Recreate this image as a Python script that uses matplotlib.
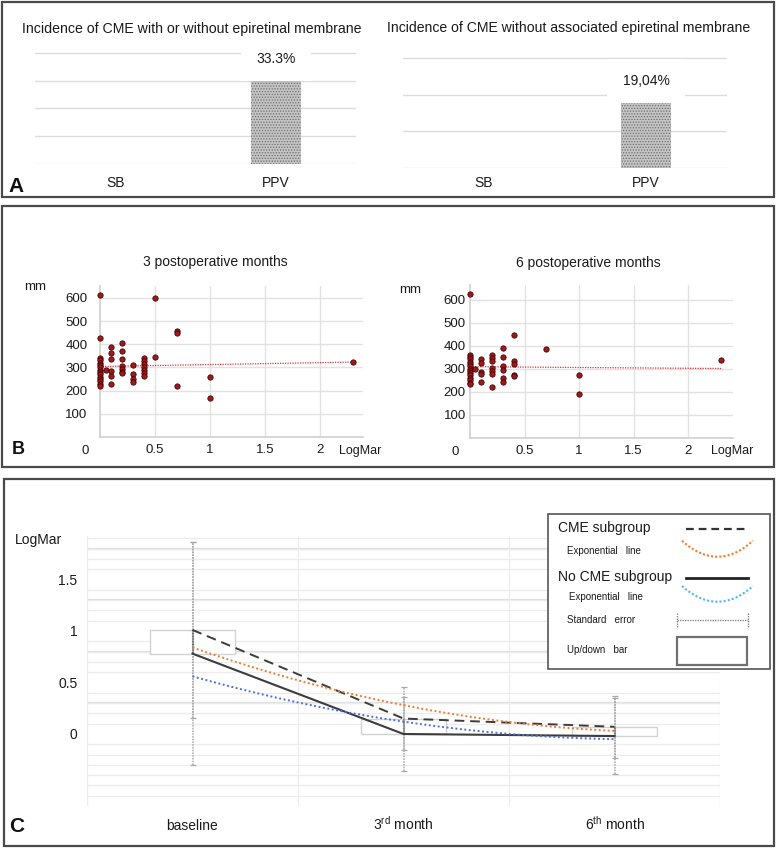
import numpy as np
import matplotlib
matplotlib.use("Agg")
import matplotlib.pyplot as plt
from matplotlib.patches import Rectangle

plt.rcParams['font.family'] = ['Liberation Sans', 'DejaVu Sans']
plt.rcParams['mathtext.fontset'] = 'custom'
plt.rcParams['mathtext.rm'] = 'Liberation Sans'
plt.rcParams['hatch.linewidth'] = 0.6

# ---- data: panel A (incidence of CME) ----
groups = ["SB", "PPV"]
incidence_all = [0, 33.3]
incidence_no_erm = [0, 19.04]
bar_labels_all = ["", "33.3%"]
bar_labels_no_erm = ["", "19,04%"]

# ---- data: panel B (LogMar vs central thickness, mm) ----
m3_logmar = ([0] * 15 + [0.05] + [0.1] * 6 + [0.2] * 7 + [0.3] * 4 + [0.4] * 7
             + [0.5] * 2 + [0.7] * 3 + [1.0] * 2 + [2.3])
m3_thick = [612, 425, 340, 330, 320, 310, 300, 290, 280, 270, 260, 250, 240, 230, 222,
            287,
            390, 362, 337, 285, 262, 228,
            405, 372, 336, 305, 293, 280, 275,
            311, 272, 252, 237,
            340, 328, 315, 302, 290, 276, 262,
            598, 345,
            455, 450, 218,
            258, 170,
            325]
m6_logmar = ([0] * 15 + [0.05] + [0.1] * 5 + [0.2] * 7 + [0.3] * 6 + [0.4] * 5
             + [0.7] + [1.0] * 2 + [2.3])
m6_thick = [626, 362, 352, 342, 332, 322, 312, 302, 292, 282, 272, 262, 250, 240, 235,
            298,
            343, 327, 288, 278, 245,
            360, 348, 333, 305, 293, 280, 222,
            390, 352, 313, 296, 260, 245,
            448, 335, 322, 275, 268,
            387,
            272, 190,
            338]
# linear trend lines as drawn in the figure (values at the ends of the LogMar range)
trend_logmar = [0, 2.3]
m3_trend = [304, 323]
m6_trend = [310, 302]

# ---- data: panel C (LogMar over follow-up) ----
visits = ["baseline", r"3$^{\rm rd}$ month", r"6$^{\rm th}$ month"]
cme_mean = [1.01, 0.15, 0.07]
nocme_mean = [0.78, 0.0, -0.02]
cme_se = [0.85, 0.31, 0.30]
nocme_se = [1.08, 0.36, 0.37]
cme_trend = [0.84, 0.28, 0.03]
nocme_trend = [0.56, 0.12, -0.05]

W, H = 777, 848
fig = plt.figure(figsize=(W / 100, H / 100), dpi=100)


def px_axes(x0, y0, x1, y1):
    return fig.add_axes([x0 / W, 1 - y1 / H, (x1 - x0) / W, (y1 - y0) / H])


GRID = '#dcdcdc'
TXT = '#1a1a1a'


# ---------- panel A ----------
def bar_panel(ax, vals, labels, ymax, pad, lab_off):
    x = np.arange(len(groups))
    ax.bar(x, vals, width=0.31, color='#c4c4c4', edgecolor='#6e6e6e',
           hatch='......', linewidth=0, zorder=2)
    ax.set_xlim(-0.5, 1.5)
    ax.set_ylim(0, ymax)
    ax.set_yticks(np.arange(0, ymax, 10))
    ax.set_yticklabels([])
    ax.tick_params(axis='y', length=0)
    ax.yaxis.grid(True, color=GRID, lw=1)
    ax.set_axisbelow(True)
    ax.set_xticks(x)
    ax.set_xticklabels(groups, fontsize=10, color=TXT)
    ax.tick_params(axis='x', length=0, pad=pad)
    for s in ax.spines.values():
        s.set_visible(False)
    for xi, v, lab in zip(x, vals, labels):
        if lab:
            ax.annotate(lab, xy=(xi, v), xytext=(0, lab_off), textcoords='offset pixels',
                        ha='center', va='center', fontsize=10, color=TXT, zorder=5,
                        bbox=dict(facecolor='white', edgecolor='none', pad=11))


axA1 = px_axes(35, 50.2, 356, 164)
bar_panel(axA1, incidence_all, bar_labels_all, 41, 8.5, 13)
axA2 = px_axes(403, 54.3, 727, 168)
bar_panel(axA2, incidence_no_erm, bar_labels_no_erm, 31, 5.5, 17)


# ---------- panel B ----------
def scatter_panel(ax, xs, ys, trend, xmax, ymax, ypad):
    ax.set_xlim(0, xmax)
    ax.set_ylim(0, ymax)
    ax.set_xticks([0.5, 1, 1.5, 2])
    ax.set_xticklabels(['0.5', '1', '1.5', '2'])
    ax.set_yticks([100, 200, 300, 400, 500, 600])
    ax.tick_params(length=0, labelsize=9.5, colors=TXT)
    ax.tick_params(axis='y', pad=ypad)
    ax.tick_params(axis='x', pad=5)
    ax.grid(True, color='#e2e2e2', lw=1)
    ax.set_axisbelow(True)
    for s in ['top', 'right']:
        ax.spines[s].set_visible(False)
    for s in ['left', 'bottom']:
        ax.spines[s].set_color('#cfcfcf')
        ax.spines[s].set_linewidth(1.2)
    ax.scatter(xs, ys, s=15, color='#a3171b', edgecolor='#2a0000', linewidth=0.5,
               zorder=4, clip_on=False)
    ax.plot(trend_logmar, trend, ls=(0, (1, 1)), color='#d9363e', lw=0.9, zorder=3)
    ax.annotate('0', xy=(0, 0), xytext=(-15, -14), textcoords='offset pixels',
                ha='center', va='center', fontsize=9.5, color=TXT, annotation_clip=False)


axB1 = px_axes(100, 286, 363, 437)
scatter_panel(axB1, m3_logmar, m3_thick, m3_trend, 2.39, 651, 9)
axB2 = px_axes(470, 285, 733, 438)
scatter_panel(axB2, m6_logmar, m6_thick, m6_trend, 2.41, 665, 3)

# ---------- panel C ----------
axC = px_axes(87, 536.2, 720, 806.1)
xc = np.arange(len(visits))
axC.set_xlim(-0.5, 2.5)
axC.set_ylim(-0.7, 1.92)
axC.set_xticks(xc)
axC.set_xticklabels(visits)
axC.set_yticks([0, 0.5, 1, 1.5])
axC.set_yticklabels(['0', '0.5', '1', '1.5'])
axC.set_yticks(np.arange(-0.7, 1.95, 0.1), minor=True)
axC.set_xticks(np.arange(-0.5, 2.6, 0.5), minor=True)
axC.tick_params(which='both', length=0, labelsize=10, colors=TXT)
axC.tick_params(axis='x', pad=17)
axC.tick_params(axis='y', pad=7)
for lab in axC.get_xticklabels():
    lab.set_verticalalignment('baseline')
axC.grid(True, which='minor', color='#ececec', lw=0.9)
for yv in [0.3, 0.8, 1.3, 1.8]:
    axC.axhline(yv, color='#dedede', lw=1.6, zorder=0.5)
axC.set_axisbelow(True)
for s in axC.spines.values():
    s.set_visible(False)

cme = np.array(cme_mean)
noc = np.array(nocme_mean)
lo = np.minimum(cme, noc)
axC.bar(xc, np.abs(cme - noc), bottom=lo, width=0.4, facecolor='white',
        edgecolor='#d2d2d2', lw=1, zorder=1.5)
axC.vlines(xc, noc, cme, color='#6a6a6a', lw=1.5, zorder=2)
for m, e in [(cme_mean, cme_se), (nocme_mean, nocme_se)]:
    eb = axC.errorbar(xc, m, yerr=e, fmt='none', ecolor='#a8a8a8', elinewidth=1.1,
                      capsize=2.5, capthick=0.9, zorder=2.2)
    eb[2][0].set_linestyle((0, (1, 0.8)))
axC.plot(xc, cme_mean, ls=(0, (5, 3)), color='#3c3c3c', lw=1.4, zorder=3)
axC.plot(xc, nocme_mean, ls='-', color='#3c3c3c', lw=1.5, zorder=3)
xs = np.linspace(0, 2, 120)
for tr, col in [(cme_trend, '#ee7d31'), (nocme_trend, '#4a72d8')]:
    p = np.polyfit(xc, tr, 2)
    axC.plot(xs, np.polyval(p, xs), ls=(0, (1, 1.3)), color=col, lw=1.4, zorder=4)

# ---------- overlay: frames, titles, legend ----------
ov = fig.add_axes([0, 0, 1, 1])
ov.set_xlim(0, W)
ov.set_ylim(H, 0)
ov.axis('off')
ov.patch.set_alpha(0)

for (x0, y0, x1, y1) in [(2, 1.5, 774, 197), (2, 206, 774, 467), (4, 479, 774, 846)]:
    ov.add_patch(Rectangle((x0, y0), x1 - x0, y1 - y0, fill=False, ec='#4a4a4a', lw=1.6))

ov.text(192, 29, "Incidence of CME with or without epiretinal membrane",
        ha='center', va='center', fontsize=10.2, color=TXT)
ov.text(569, 28, "Incidence of CME without associated epiretinal membrane",
        ha='center', va='center', fontsize=10.1, color=TXT)
ov.text(215, 262, "3 postoperative months", ha='center', va='center', fontsize=10, color=TXT)
ov.text(588, 263, "6 postoperative months", ha='center', va='center', fontsize=10, color=TXT)
ov.text(35, 287, "mm", ha='center', va='center', fontsize=9.5, color=TXT)
ov.text(410, 290, "mm", ha='center', va='center', fontsize=9.5, color=TXT)
ov.text(360, 451, "LogMar", ha='center', va='center', fontsize=9, color=TXT)
ov.text(732, 451, "LogMar", ha='center', va='center', fontsize=9, color=TXT)
ov.text(38, 540, "LogMar", ha='center', va='center', fontsize=10, color=TXT)

ov.text(16, 186, "A", ha='center', va='center', fontsize=15, fontweight='bold', color='#111')
ov.text(18, 449, "B", ha='center', va='center', fontsize=13, fontweight='bold', color='#111')
ov.text(17, 827, "C", ha='center', va='center', fontsize=15, fontweight='bold', color='#111')

# legend box
ov.add_patch(Rectangle((548, 514), 222, 155, fc='white', ec='#555555', lw=1.2, zorder=5))
ov.text(558, 528, "CME subgroup", ha='left', va='center', fontsize=10, color=TXT, zorder=6)
ov.plot([686, 748], [529, 529], ls=(0, (3.5, 2.2)), color='#333333', lw=1.6, zorder=6)
ov.text(567, 551, "Exponential   line", ha='left', va='center', fontsize=7, color=TXT, zorder=6)
t = np.linspace(-1, 1, 60)
ov.plot(717.5 + 35.5 * t, 556.7 - 16 * t ** 2, ls=(0, (1, 1)), color='#ee7d31', lw=1.5, zorder=6)
ov.text(558, 577, "No CME subgroup", ha='left', va='center', fontsize=10, color=TXT, zorder=6)
ov.plot([686, 748], [578, 578], ls='-', color='#222222', lw=2, zorder=6)
ov.text(569, 597, "Exponential   line", ha='left', va='center', fontsize=7, color=TXT, zorder=6)
ov.plot(717.5 + 35.5 * t, 601.7 - 15.7 * t ** 2, ls=(0, (1, 1)), color='#4db8ea', lw=1.5, zorder=6)
ov.text(567, 620, "Standard   error", ha='left', va='center', fontsize=7, color=TXT, zorder=6)
ov.plot([677, 748], [620, 620], ls=(0, (1, 0.8)), color='#8a8a8a', lw=1, zorder=6)
ov.plot([677, 677], [613, 627], ls=(0, (1, 0.8)), color='#8a8a8a', lw=1, zorder=6)
ov.plot([748, 748], [613, 627], ls=(0, (1, 0.8)), color='#8a8a8a', lw=1, zorder=6)
ov.text(567, 650, "Up/down   bar", ha='left', va='center', fontsize=7, color=TXT, zorder=6)
ov.add_patch(Rectangle((677, 637), 70, 28, fill=False, ec='#707070', lw=1.6, zorder=6))

fig.savefig("out.png", dpi=100)
